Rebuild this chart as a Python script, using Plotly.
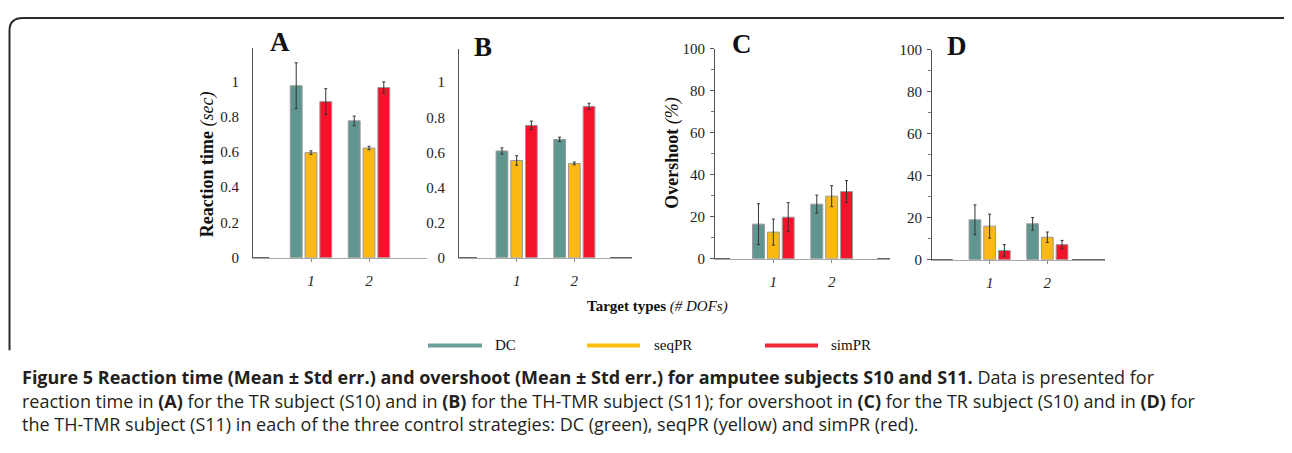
import plotly.graph_objects as go

# page body has an 8px margin; figure sized so the page fits the 1292x453 window exactly
W, H = 1284, 437
OFF_X, OFF_Y = 8, 8

# ---------------- data ----------------
categories = [1, 2]
series = ["DC", "seqPR", "simPR"]

rt_A_mean = {"DC": [0.975, 0.776], "seqPR": [0.596, 0.622], "simPR": [0.885, 0.965]}
rt_A_err = {"DC": [0.13, 0.027], "seqPR": [0.01, 0.01], "simPR": [0.073, 0.032]}
rt_B_mean = {"DC": [0.608, 0.674], "seqPR": [0.554, 0.537], "simPR": [0.754, 0.862]}
rt_B_err = {"DC": [0.018, 0.013], "seqPR": [0.027, 0.008], "simPR": [0.024, 0.018]}
os_C_mean = {"DC": [16.5, 26.0], "seqPR": [12.7, 29.8], "simPR": [19.8, 32.0]}
os_C_err = {"DC": [9.7, 4.3], "seqPR": [6.2, 5.0], "simPR": [6.9, 5.2]}
os_D_mean = {"DC": [19.0, 17.1], "seqPR": [16.0, 10.7], "simPR": [4.4, 7.2]}
os_D_err = {"DC": [7.1, 3.0], "seqPR": [5.7, 2.5], "simPR": [2.8, 2.0]}

rt_ticks = [0, 0.2, 0.4, 0.6, 0.8, 1]
os_ticks = [0, 20, 40, 60, 80, 100]
x_ticks = [1, 2]
x_ticktext = ["<i>1</i>", "<i>2</i>"]

colors = {"DC": "#5f968f", "seqPR": "#fdb813", "simPR": "#f4132b"}
legend_colors = {"DC": "#6b9f99", "seqPR": "#fdc012", "simPR": "#f2283a"}

SERIF = "Liberation Serif"


def px(x):
    return (x - OFF_X) / W


def py(y):
    return 1 - (y - OFF_Y) / H


fig = go.Figure()

panels = [
    ("x", "y", rt_A_mean, rt_A_err),
    ("x2", "y2", rt_B_mean, rt_B_err),
    ("x3", "y3", os_C_mean, os_C_err),
    ("x4", "y4", os_D_mean, os_D_err),
]

for xa, ya, means, errs in panels:
    for s in series:
        fig.add_trace(go.Bar(
            x=categories, y=means[s], xaxis=xa, yaxis=ya,
            marker=dict(color=colors[s], line=dict(color="#9a9a9a", width=1)),
            error_y=dict(type="data", array=errs[s], color="#333333",
                         thickness=1, width=1.5),
            showlegend=False, hoverinfo="skip",
        ))

# axis domains (pixel based)
xdoms = [(253, 427), (459, 632), (715, 890), (932, 1105)]
ydoms = [(259, 41), (259, 42), (260, 42), (261, 43)]
yranges = [[0, 1.19], [0, 1.19], [0, 100], [0, 100]]

tickfont = dict(family=SERIF, size=15, color="#222222")
layout_axes = {}
for i in range(4):
    sx = "" if i == 0 else str(i + 1)
    layout_axes["xaxis" + sx] = dict(
        domain=[px(xdoms[i][0]), px(xdoms[i][1])], range=[0, 3],
        anchor="y" + sx, tickvals=x_ticks, ticktext=x_ticktext,
        showline=True, linecolor="#a8a8a8", linewidth=1,
        ticks="outside", ticklen=3, tickcolor="#888888",
        showgrid=False, zeroline=False, tickfont=tickfont,
        ticklabelstandoff=6, fixedrange=True,
    )
    ya = dict(
        domain=[py(ydoms[i][0]), py(ydoms[i][1])], range=yranges[i],
        anchor="x" + sx, showline=True, linecolor="#555555", linewidth=1,
        showgrid=False, zeroline=False, tickfont=tickfont, fixedrange=True,
    )
    if i < 2:
        ya.update(tickvals=rt_ticks, ticks="", ticklabelstandoff=10)
    else:
        ya.update(tickvals=os_ticks, ticks="outside", ticklen=4,
                  tickcolor="#555555", ticklabelstandoff=2,
                  minor=dict(dtick=10, ticks="outside", ticklen=3,
                             tickcolor="#777777"))
    layout_axes["yaxis" + sx] = ya

fig.update_layout(**layout_axes)

shapes = []
# dark stubs at the ends of the baselines
stubs = [("x", "y", [(0, 0.28)]),
         ("x2", "y2", [(0, 0.31), (2.62, 3)]),
         ("x3", "y3", [(0, 0.26), (2.78, 3)]),
         ("x4", "y4", [(0, 0.36), (2.43, 3)])]
for xr, yr, segs in stubs:
    for a, b in segs:
        shapes.append(dict(type="line", xref=xr, yref=yr, x0=a, x1=b, y0=0, y1=0,
                           line=dict(color="#333333", width=1.5)))

# legend lines
leg_pos = [("DC", 428, 482, 493), ("seqPR", 587, 640, 652), ("simPR", 765, 818, 829)]
annotations = []
for s, x0, x1, xl in leg_pos:
    shapes.append(dict(type="line", xref="paper", yref="paper",
                       x0=px(x0), x1=px(x1), y0=py(350), y1=py(350),
                       line=dict(color=legend_colors[s], width=4)))
    annotations.append(dict(xref="paper", yref="paper", x=px(xl), y=py(350),
                            text=s, showarrow=False, xanchor="left", yanchor="middle",
                            font=dict(family=SERIF, size=15, color="#111111")))

# outer frame
path = (f"M {px(9.5)},{py(355)} L {px(9.5)},{py(23)} "
        f"Q {px(9.5)},{py(10)} {px(23)},{py(10)} "
        f"L {px(1286)},{py(10)} Q {px(1289)},{py(10)} {px(1291)},{py(13)}")
shapes.append(dict(type="path", xref="paper", yref="paper", path=path,
                   line=dict(color="#2a2a2a", width=2)))

# panel letters
for letter, x, y in [("A", 280, 35), ("B", 483, 40), ("C", 742, 37), ("D", 957, 39)]:
    annotations.append(dict(xref="paper", yref="paper", x=px(x), y=py(y), text=f"<b>{letter}</b>",
                            showarrow=False, xanchor="center", yanchor="middle",
                            font=dict(family=SERIF, size=27, color="#111111")))

# y titles
annotations.append(dict(xref="paper", yref="paper", x=px(207), y=py(162),
                        text="<b>Reaction time</b> <i>(sec)</i>", textangle=-90,
                        showarrow=False, xanchor="center", yanchor="middle",
                        font=dict(family=SERIF, size=18, color="#111111")))
annotations.append(dict(xref="paper", yref="paper", x=px(673), y=py(151),
                        text="<b>Overshoot</b> <i>(%)</i>", textangle=-90,
                        showarrow=False, xanchor="center", yanchor="middle",
                        font=dict(family=SERIF, size=18, color="#111111")))
# x title
annotations.append(dict(xref="paper", yref="paper", x=px(657), y=py(310),
                        text="<b>Target types</b> <i>(# DOFs)</i>",
                        showarrow=False, xanchor="center", yanchor="middle",
                        font=dict(family=SERIF, size=15, color="#111111")))

# caption
cap_font = dict(family="Open Sans", size=18, color="#231f20")
cap_lines = [
    "<b>Figure 5 Reaction time (Mean ± Std err.) and overshoot (Mean ± Std err.) for amputee subjects S10 and S11.</b> Data is presented for",
    "reaction time in <b>(A)</b> for the TR subject (S10) and in <b>(B)</b> for the TH-TMR subject (S11); for overshoot in <b>(C)</b> for the TR subject (S10) and in <b>(D)</b> for",
    "the TH-TMR subject (S11) in each of the three control strategies: DC (green), seqPR (yellow) and simPR (red).",
]
for i, t in enumerate(cap_lines):
    annotations.append(dict(xref="paper", yref="paper", x=px(20), y=py(383 + 24.5 * i), text=t,
                            showarrow=False, xanchor="left", yanchor="middle", font=cap_font))

fig.update_layout(
    width=W, height=H, margin=dict(l=0, r=0, t=0, b=0),
    paper_bgcolor="white", plot_bgcolor="white",
    barmode="group", bargap=0.235, bargroupgap=0.2,
    shapes=shapes, annotations=annotations, showlegend=False,
)

fig.write_html("out.html", config={"displayModeBar": False})
